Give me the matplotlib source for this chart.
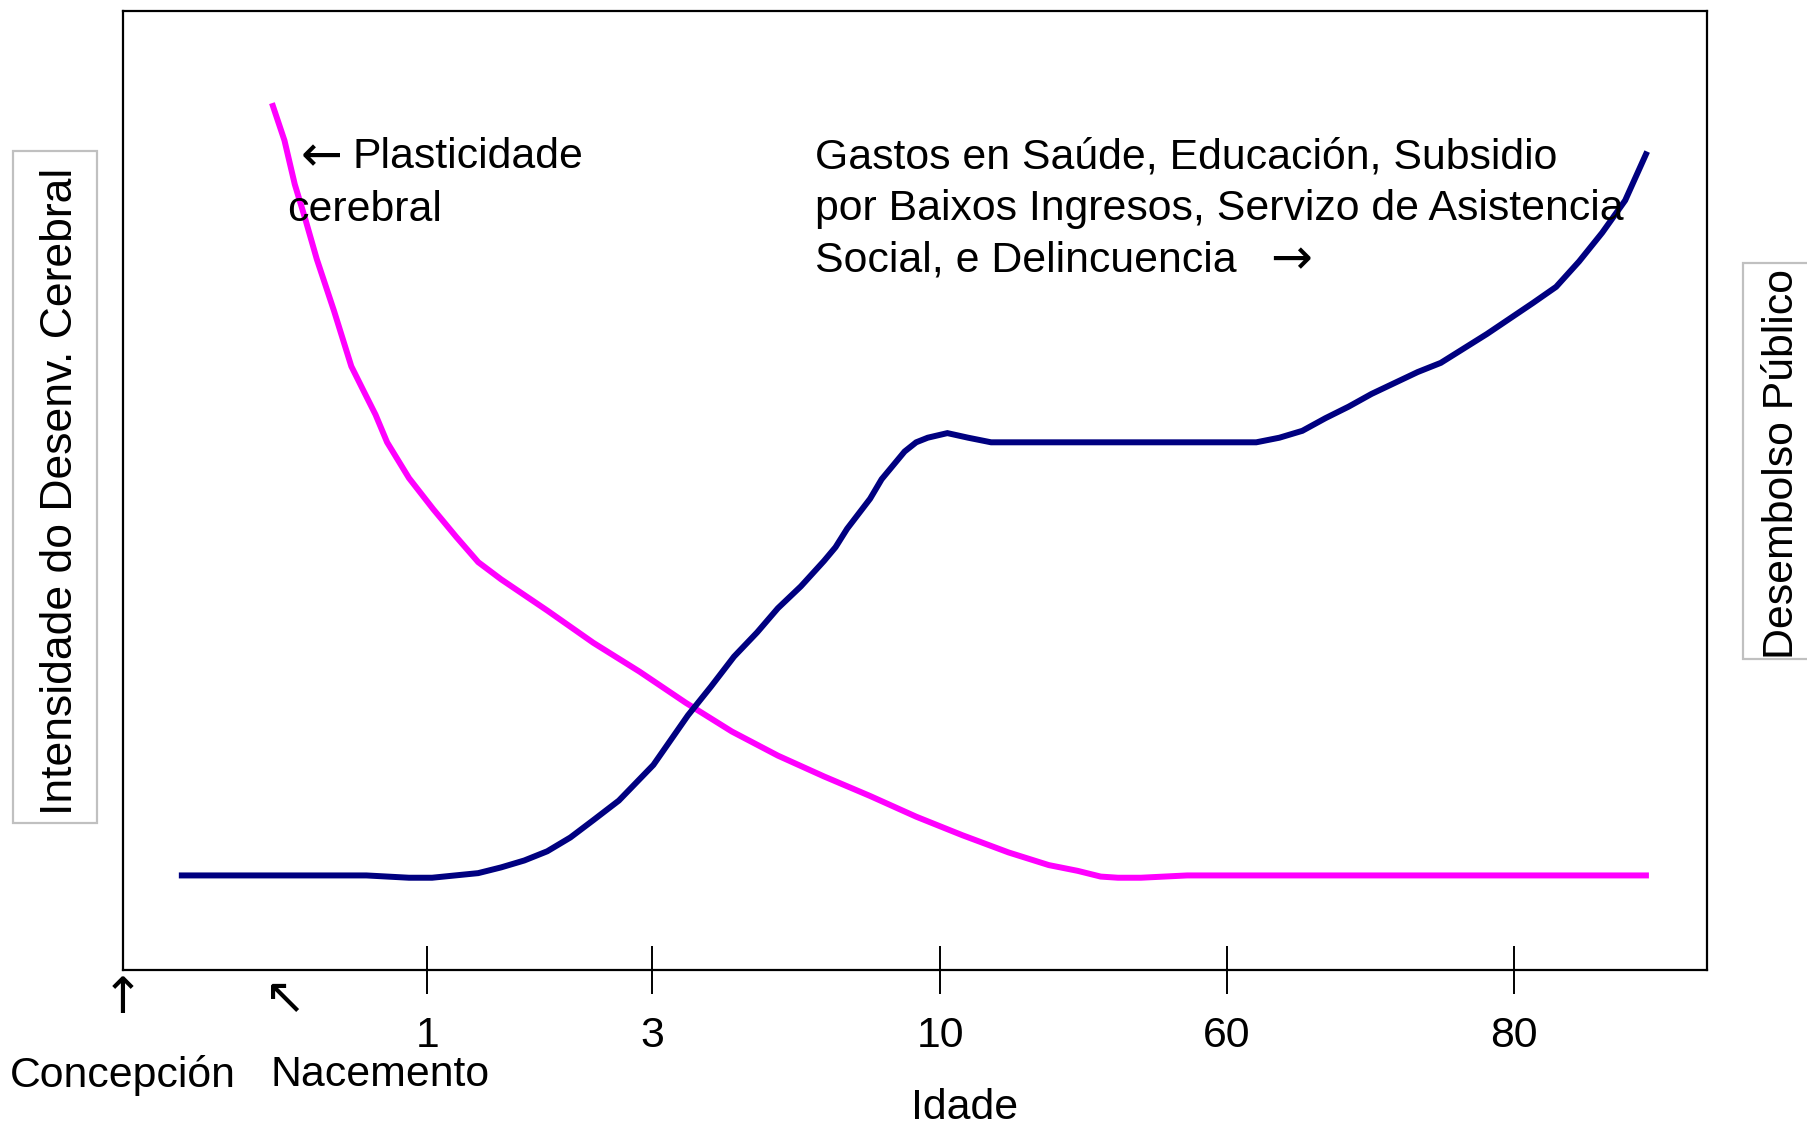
import matplotlib
matplotlib.use("Agg")
from matplotlib import pyplot as plt
import matplotlib.transforms as mtransforms
from matplotlib.patches import Rectangle

plt.rcParams['font.family'] = ['Liberation Sans', 'DejaVu Sans']

# position along the age axis (0-100) and curve intensity (0-100)
plast_x = [9.46, 10.19, 10.84, 11.50, 12.23, 13.32, 14.41, 15.28, 15.94, 16.67,
           18.05, 19.58, 21.03, 22.42, 23.87, 26.78, 29.69, 32.60, 35.52, 38.43,
           41.34, 44.25, 47.16, 50.07, 52.98, 55.90, 58.44, 60.26, 61.72, 62.81,
           64.26, 67.18, 73.00, 78.82, 84.64, 90.47, 96.14]
plast_y = [90.14, 86.54, 81.97, 78.37, 74.16, 68.75, 62.98, 60.10, 57.93, 55.05,
           51.32, 48.08, 45.19, 42.55, 40.75, 37.50, 34.13, 31.13, 27.88, 24.88,
           22.36, 20.19, 18.15, 15.99, 14.06, 12.26, 10.94, 10.34, 9.74, 9.62,
           9.62, 9.86, 9.86, 9.86, 9.86, 9.86, 9.86]

gasto_x = [3.71, 9.46, 15.36, 18.05, 19.51, 22.42, 23.87, 25.33, 26.78, 28.24,
           29.69, 31.30, 33.48, 35.66, 37.12, 38.57, 40.03, 41.34, 42.79, 44.25,
           44.98, 45.71, 47.16, 47.89, 49.34, 50.07, 50.80, 52.04, 53.35, 54.80,
           61.35, 71.54, 73.00, 74.45, 75.91, 77.37, 78.82, 81.73, 83.19, 86.10,
           89.01, 90.47, 91.92, 93.38, 94.83, 96.14]
gasto_y = [9.86, 9.86, 9.86, 9.62, 9.62, 10.10, 10.70, 11.42, 12.38, 13.82,
           15.63, 17.67, 21.39, 26.56, 29.57, 32.69, 35.22, 37.74, 40.02, 42.67,
           44.11, 46.03, 49.16, 51.20, 54.09, 55.05, 55.53, 56.01, 55.53, 55.05,
           55.05, 55.05, 55.53, 56.25, 57.57, 58.77, 60.10, 62.38, 63.34, 66.35,
           69.59, 71.27, 73.92, 76.92, 80.29, 85.10]

tick_pos = [19.2, 33.4, 51.6, 69.7, 87.8]
tick_labels = ["1", "3", "10", "60", "80"]

gasto_lines = ["Gastos en Saúde, Educación, Subsidio",
               "por Baixos Ingresos, Servizo de Asistencia",
               "Social, e Delincuencia"]

fs = 30.8
afs = 36
arrow_font = ["DejaVu Sans"]
fig = plt.figure(figsize=(18.07, 11.26), dpi=100)
ax = fig.add_axes([0.0681, 0.1386, 0.8766, 0.8512])

ax.plot(plast_x, plast_y, color="#FF00FF", lw=4.3, solid_joinstyle="miter")
ax.plot(gasto_x, gasto_y, color="#000080", lw=4.3, solid_joinstyle="miter")

ax.set_xlim(0, 100)
ax.set_ylim(0, 100)
ax.set_yticks([])
ax.set_xticks(tick_pos)
ax.set_xticklabels(tick_labels, fontsize=fs)
ax.tick_params(axis="x", direction="inout", length=34, width=1.4, pad=16.5)
for s in ax.spines.values():
    s.set_linewidth(1.6)

# annotations inside the plot
ax.text(11.2, 84.8, "←", fontsize=afs, va="center", ha="left", family=arrow_font)
ax.text(14.5, 84.8, "Plasticidade", fontsize=fs, va="center", ha="left")
ax.text(10.33, 79.3, "cerebral", fontsize=fs, va="center", ha="left")
for i, line in enumerate(gasto_lines):
    ax.text(43.67, 84.8 - i * 5.4, line, fontsize=fs, va="center", ha="left")
ax.text(72.4, 84.8 - 2 * 5.4, "→", fontsize=afs, va="center", ha="left",
        family=arrow_font)

# markers below the axis
trans = mtransforms.blended_transform_factory(ax.transData, ax.transAxes)
ax.text(0, -0.03, "↑", fontsize=afs, ha="center", va="center", transform=trans,
        family=arrow_font)
ax.text(10.2, -0.03, "↖", fontsize=afs, ha="center", va="center", transform=trans,
        family=arrow_font)
ax.text(0, -0.11, "Concepción", fontsize=fs, ha="center", va="center", transform=trans)
ax.text(16.2, -0.11, "Nacemento", fontsize=fs, ha="center", va="center", transform=trans)
ax.text(53.1, -0.144, "Idade", fontsize=fs, ha="center", va="center", transform=trans)

# side labels with boxes
fig.patches.append(Rectangle((13 / 1807, 1 - 823 / 1126), 84 / 1807, 672 / 1126,
                             transform=fig.transFigure, fc="white", ec="#c0c0c0",
                             lw=1.6, zorder=0))
fig.patches.append(Rectangle((1743 / 1807, 1 - 659 / 1126), 100 / 1807, 396 / 1126,
                             transform=fig.transFigure, fc="white", ec="#c0c0c0",
                             lw=1.6, zorder=0))
fig.text(0.0337, 0.5639, "Intensidade do Desenv. Cerebral", fontsize=32,
         rotation=90, ha="center", va="center")
fig.text(0.986, 0.5875, "Desembolso Público", fontsize=fs,
         rotation=90, ha="center", va="center")

fig.savefig("out.png", dpi=100)
